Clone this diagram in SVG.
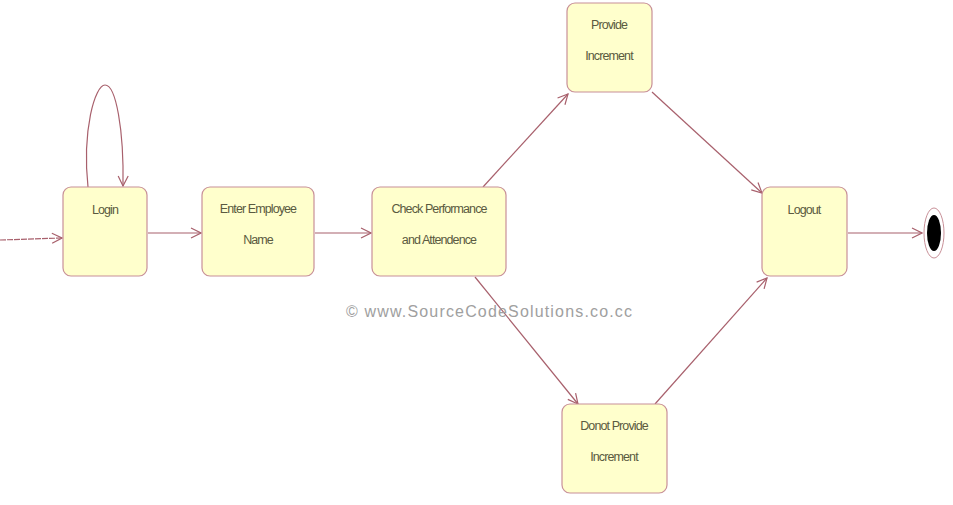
<svg xmlns="http://www.w3.org/2000/svg" width="953" height="505" viewBox="0 0 953 505">
<style>
.box{fill:#ffffcc;stroke:#c89098;stroke-width:1.2}
.t{font-family:"Liberation Sans",Arial,sans-serif;font-size:12.5px;fill:#5a5a40;text-anchor:middle;letter-spacing:-0.9px}
.c{fill:none;stroke:#a8606c;stroke-width:1.2}
</style>
<defs>
<marker id="a" viewBox="0 0 12 12" refX="11" refY="6" markerWidth="12" markerHeight="12" markerUnits="userSpaceOnUse" orient="auto">
<path d="M1,1 L11,6 L1,11" fill="none" stroke="#a8606c" stroke-width="1.2"/>
</marker>
</defs>
<rect width="953" height="505" fill="#fff"/>
<g id="connectors">
<path class="c" d="M0,240 L62,238" stroke-dasharray="6,1" marker-end="url(#a)"/>
<path class="c" d="M88,187 C82,130 95,85 105,85 C116,85 124,130 123,186" marker-end="url(#a)"/>
<path class="c" d="M148,233 L201,233" marker-end="url(#a)"/>
<path class="c" d="M315,233 L371,233" marker-end="url(#a)"/>
<path class="c" d="M483,187 L568,94" marker-end="url(#a)"/>
<path class="c" d="M475,277 L578,404" marker-end="url(#a)"/>
<path class="c" d="M652,92 L762,193" marker-end="url(#a)"/>
<path class="c" d="M655,404 L767,278" marker-end="url(#a)"/>
<path class="c" d="M848,233 L922,233" marker-end="url(#a)"/>
</g>
<g id="login"><rect class="box" x="63" y="187" width="84" height="89" rx="8"/><text class="t" x="105" y="214">Login</text></g>
<g id="enter"><rect class="box" x="202" y="187" width="112" height="89" rx="8"/><text class="t" x="258" y="213">Enter Employee</text><text class="t" x="258" y="244">Name</text></g>
<g id="check"><rect class="box" x="372" y="187" width="134" height="89" rx="8"/><text class="t" x="439" y="213">Check Performance</text><text class="t" x="439" y="244">and Attendence</text></g>
<g id="provide"><rect class="box" x="567" y="3" width="85" height="89" rx="8"/><text class="t" x="609" y="29">Provide</text><text class="t" x="609" y="60">Increment</text></g>
<g id="donot"><rect class="box" x="562" y="404" width="105" height="89" rx="8"/><text class="t" x="614" y="430">Donot Provide</text><text class="t" x="614" y="461">Increment</text></g>
<g id="logout"><rect class="box" x="762" y="187" width="85" height="89" rx="8"/><text class="t" x="804" y="214">Logout</text></g>
<g id="final"><ellipse cx="934" cy="233" rx="10" ry="25" fill="none" stroke="#c89098" stroke-width="1"/><ellipse cx="934" cy="233" rx="7" ry="18" fill="#000"/></g>
<text x="489" y="317" font-family="'Liberation Sans',Arial,sans-serif" font-size="16" fill="#a0a0a0" text-anchor="middle" textLength="286" lengthAdjust="spacing">© www.SourceCodeSolutions.co.cc</text>
</svg>
